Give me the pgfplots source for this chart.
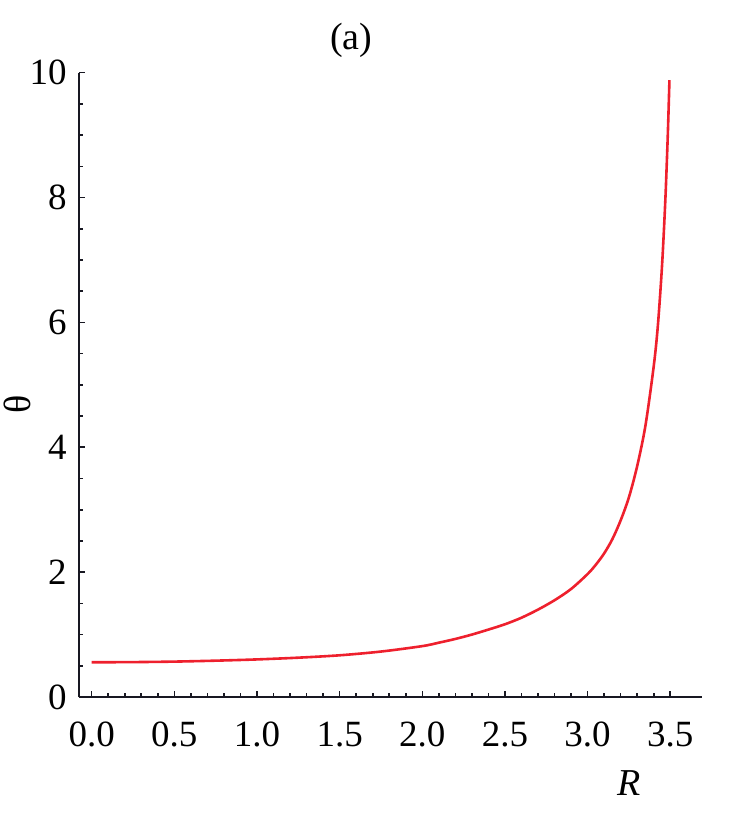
\documentclass[border=0pt]{standalone}
\usepackage{fontspec}
\setmainfont{Liberation Serif}
\usepackage{pgfplots}
\pgfplotsset{compat=1.18}
\definecolor{axcol}{RGB}{24,24,34}
\definecolor{curve}{RGB}{238,32,45}
\begin{document}
\begin{tikzpicture}
\begin{axis}[
  name=ax,
  scale only axis,
  width=311.5pt, height=312.15pt,
  xmin=-0.0768, xmax=3.692,
  ymin=0, ymax=10,
  axis lines=left,
  axis line style={-, line width=1.4pt, color=axcol},
  xtick={0,0.5,...,3.5},
  ytick={0,2,4,6,8,10},
  minor x tick num=4,
  minor y tick num=3,
  tick align=inside,
  major tick length=3.2pt,
  minor tick length=2pt,
  every tick/.style={axcol, line width=0.8pt},
  /pgf/number format/assume math mode=true,
  tick label style={font=\fontsize{18.5}{20}\selectfont, text=black},
  xticklabel style={anchor=base, yshift=-24.5pt, /pgf/number format/.cd, fixed, fixed zerofill, precision=1},
  yticklabel style={anchor=east, inner sep=0pt, xshift=-6pt},
  title={(a)},
  every axis title/.style={at={(axis description cs:0.437,1.0364)}, anchor=base, font=\fontsize{19}{21}\selectfont},
  xlabel={\textit{R}},
  every axis x label/.style={at={(axis description cs:0.883,-0.157)}, anchor=base, font=\fontsize{19}{21}\selectfont},
  ylabel={θ},
  every axis y label/.style={at={(axis description cs:-0.078,0.468)}, rotate=90, anchor=base, inner sep=0pt, font=\fontsize{19}{21}\selectfont},
  clip=false,
]
\addplot[color=curve, line width=1.3pt, smooth, tension=0.5] coordinates {
(0.00,0.556) (0.25,0.559) (0.50,0.567) (0.75,0.582) (1.00,0.602)
(1.25,0.630) (1.50,0.668) (1.75,0.728) (2.00,0.815) (2.10,0.870)
(2.20,0.930) (2.30,1.000) (2.40,1.080) (2.50,1.165) (2.60,1.270)
(2.70,1.400) (2.80,1.550) (2.90,1.730) (3.00,1.970) (3.05,2.120)
(3.10,2.300) (3.15,2.530) (3.20,2.830) (3.25,3.200) (3.30,3.700)
(3.35,4.350) (3.40,5.300) (3.425,5.950) (3.45,6.900) (3.47,7.950)
(3.485,9.000) (3.495,9.880)
};
\end{axis}
\pgfresetboundingbox
\path[use as bounding box] ([xshift=-39.5pt,yshift=-58pt]ax.south west) rectangle ++(365pt,406.5pt);
\end{tikzpicture}
\end{document}
